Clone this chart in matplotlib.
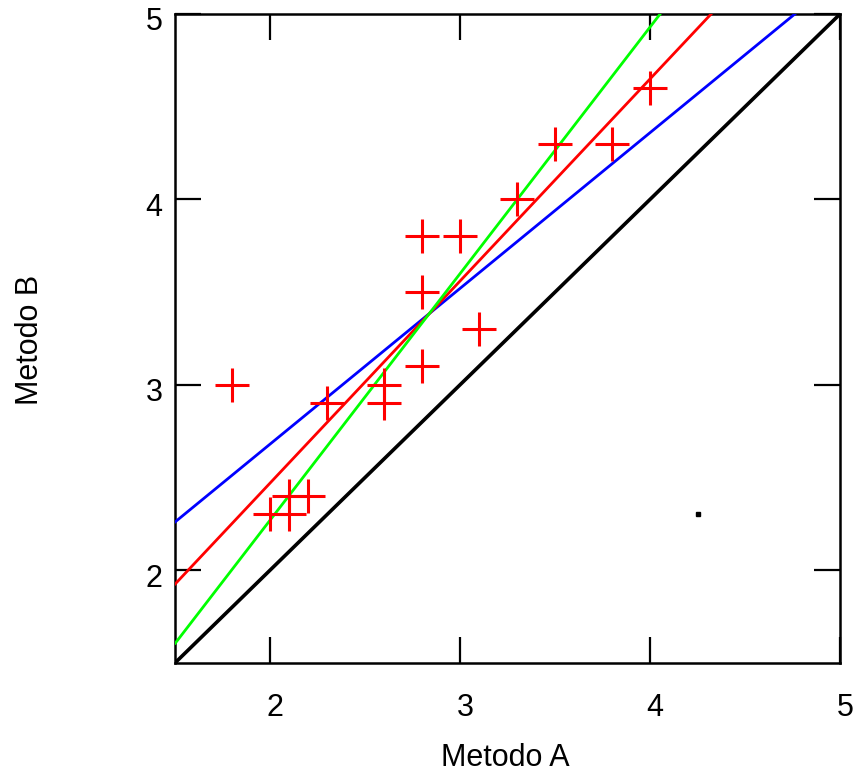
import numpy as np
import matplotlib.pyplot as plt
import matplotlib.transforms as mtransforms

plt.rcParams['font.family'] = ['Liberation Sans', 'DejaVu Sans']

metodo_a = [1.8, 2.0, 2.1, 2.1, 2.2, 2.3, 2.6, 2.6, 2.8, 2.8, 2.8, 3.0, 3.1, 3.3, 3.5, 3.8, 4.0]
metodo_b = [3.0, 2.3, 2.3, 2.4, 2.4, 2.9, 3.0, 2.9, 3.8, 3.5, 3.1, 3.8, 3.3, 4.0, 4.3, 4.3, 4.6]

# fitted lines (intercept, slope)
fit_intercept = [1.0, 0.29, -0.39]
fit_slope = [0.84, 1.09, 1.33]
fit_color = ['#0000ff', '#ff0000', '#00ff00']

stray_x = [4.25]
stray_y = [2.3]

fig = plt.figure(figsize=(8.59, 7.76), dpi=100)
ax = fig.add_axes([0.204, 0.146, 0.774, 0.836])

xs = np.array([1.5, 5.0])
ax.plot(xs, xs, color='black', lw=2.6, zorder=2)
for b0, b1, c in zip(fit_intercept, fit_slope, fit_color):
    ax.plot(xs, b0 + b1 * xs, color=c, lw=2.0, zorder=3)

ax.plot(metodo_a, metodo_b, '+', color='#ff0000', ms=25, mew=2.2, zorder=4)
ax.plot(stray_x, stray_y, 's', color='black', ms=3, zorder=4)

ax.set_xlim(1.5, 5)
ax.set_ylim(1.5, 5)
ax.set_xticks([2, 3, 4, 5])
ax.set_yticks([2, 3, 4, 5])
ax.tick_params(direction='in', length=19, width=1.6, labelsize=22,
               top=True, right=True)
ax.tick_params(axis='x', pad=19)
ax.tick_params(axis='y', pad=9)
for s in ax.spines.values():
    s.set_linewidth(1.8)

# tick labels sit a little right / below their ticks in the original
shift = mtransforms.ScaledTranslation(5 / 100, -4 / 100, fig.dpi_scale_trans)
for lab in ax.get_xticklabels():
    lab.set_transform(lab.get_transform() + shift)
shift_y = mtransforms.ScaledTranslation(0, -5 / 100, fig.dpi_scale_trans)
for lab in ax.get_yticklabels():
    lab.set_transform(lab.get_transform() + shift_y)

ax.set_xlabel('Metodo A', fontsize=22, va='center')
ax.xaxis.set_label_coords(0.497, -0.147)
ax.set_ylabel('Metodo B', fontsize=22, va='center')
ax.yaxis.set_label_coords(-0.219, 0.497)

fig.savefig('out.png', dpi=100)
